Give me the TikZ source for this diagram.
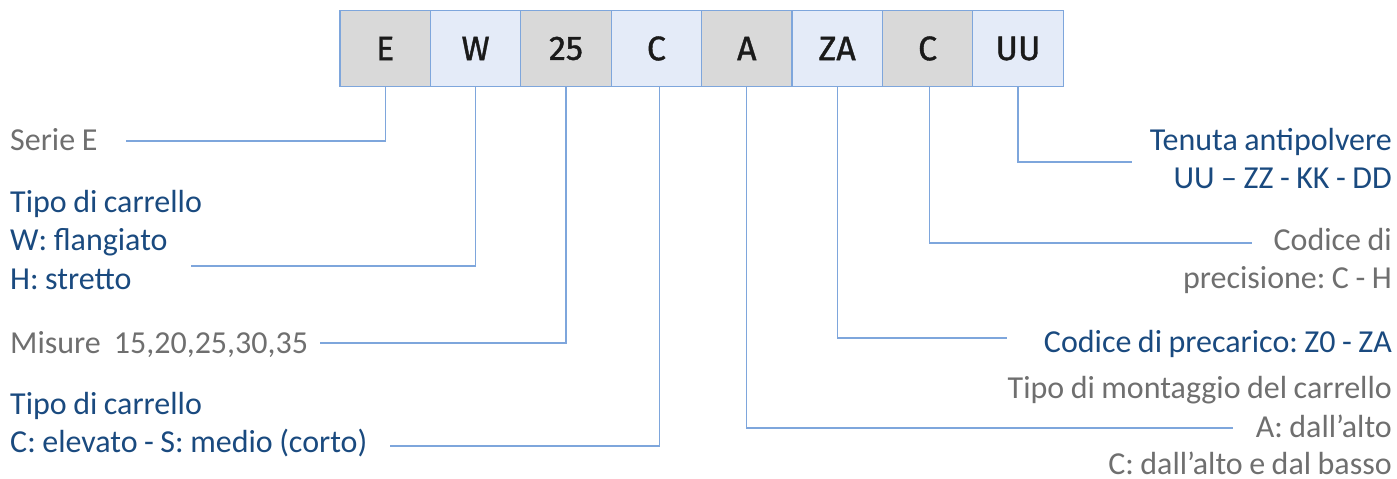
\documentclass[tikz,border=0pt]{standalone}
\usepackage{fontspec}
\setmainfont{Carlito}[WordSpace=0.9]
\newfontfamily\boxfont{Fira Sans}[FakeBold=1.2]
\frenchspacing
\definecolor{lineblue}{HTML}{7EA6DC}
\definecolor{txtblue}{HTML}{1A4A7F}
\definecolor{txtgray}{HTML}{6F6F6F}
\definecolor{boxgray}{HTML}{D9D9D9}
\definecolor{boxblue}{HTML}{E4EBF8}
\definecolor{boxtxt}{HTML}{1A1A1A}
\tikzset{
  codebox/.style={draw=lineblue, line width=1.2pt, minimum width=90.4pt, minimum height=75.5pt,
    inner sep=0pt, outer sep=0pt, font=\boxfont\fontsize{34}{34}\selectfont, text=boxtxt},
  gbox/.style={codebox, fill=boxgray},
  bbox/.style={codebox, fill=boxblue},
  lbl/.style={inner sep=0pt, font=\frenchspacing\fontsize{32}{38}\selectfont},
  lleft/.style={lbl, anchor=base west},
  lright/.style={lbl, anchor=base east},
  conn/.style={draw=lineblue, line width=1.1pt},
}
\begin{document}
\begin{tikzpicture}[x=1pt,y=-1pt]
\useasboundingbox (0,0) rectangle (1397,479);
% boxes
\node[gbox] (bE)  at (385.2,48.5) {E};
\node[bbox] (bW)  at (475.6,48.5) {W};
\node[gbox] (b25) at (566.0,48.5) {25};
\node[bbox] (bC)  at (656.4,48.5) {C};
\node[gbox] (bA)  at (746.8,48.5) {A};
\node[bbox] (bZA) at (837.2,48.5) {ZA};
\node[gbox] (bCC) at (927.6,48.5) {C};
\node[bbox] (bUU) at (1018.0,48.5) {UU};
% left labels
\node[lleft, text=txtgray] (tE) at (10,150) {Serie E};
\node[lleft, text=txtblue] (tW1) at (10,212) {Tipo di carrello};
\node[lleft, text=txtblue] (tW2) at (10,250) {W: flangiato};
\node[lleft, text=txtblue] (tW3) at (10,289) {H: stretto};
\node[lleft, text=txtgray] (t25) at (10,353) {Misure\ \ 15,20,25,30,35};
\node[lleft, text=txtblue] (tC1) at (10,414) {Tipo di carrello};
\node[lleft, text=txtblue] (tC2) at (10,452.5) {C: elevato - S: medio (corto)};
% right labels
\node[lright, text=txtblue] (tUU1) at (1392,150) {Tenuta antipolvere};
\node[lright, text=txtblue] (tUU2) at (1392,188) {UU – ZZ - KK - DD};
\node[lright, text=txtgray] (tCC1) at (1392,250) {Codice di};
\node[lright, text=txtgray] (tCC2) at (1392,288) {precisione: C - H};
\node[lright, text=txtblue] (tZA) at (1392,352) {Codice di precarico: Z0 - ZA};
\node[lright, text=txtgray] (tA1) at (1392,398) {Tipo di montaggio del carrello};
\node[lright, text=txtgray] (tA2) at (1392,437) {A: dall’alto};
\node[lright, text=txtgray, text depth=0pt] (tA3) at (1392,474) {C: dall’alto e dal basso};
% connector ends
\coordinate (cE)  at (126,141);
\coordinate (cW)  at (191,266);
\coordinate (c25) at (320,343);
\coordinate (cC)  at (390,446);
\coordinate (cA)  at (1233,428);
\coordinate (cZA) at (1007,338);
\coordinate (cCC) at (1252,243);
\coordinate (cUU) at (1132,162);
% connectors
\draw[conn] (bE.south) |- (cE);
\draw[conn] (bW.south) |- (cW);
\draw[conn] (b25.south) |- (c25);
\draw[conn] ([xshift=3pt]bC.south) |- (cC);
\draw[conn] (bA.south) |- (cA);
\draw[conn] (bZA.south) |- (cZA);
\draw[conn] ([xshift=1.5pt]bCC.south) |- (cCC);
\draw[conn] (bUU.south) |- (cUU);
\end{tikzpicture}
\end{document}
